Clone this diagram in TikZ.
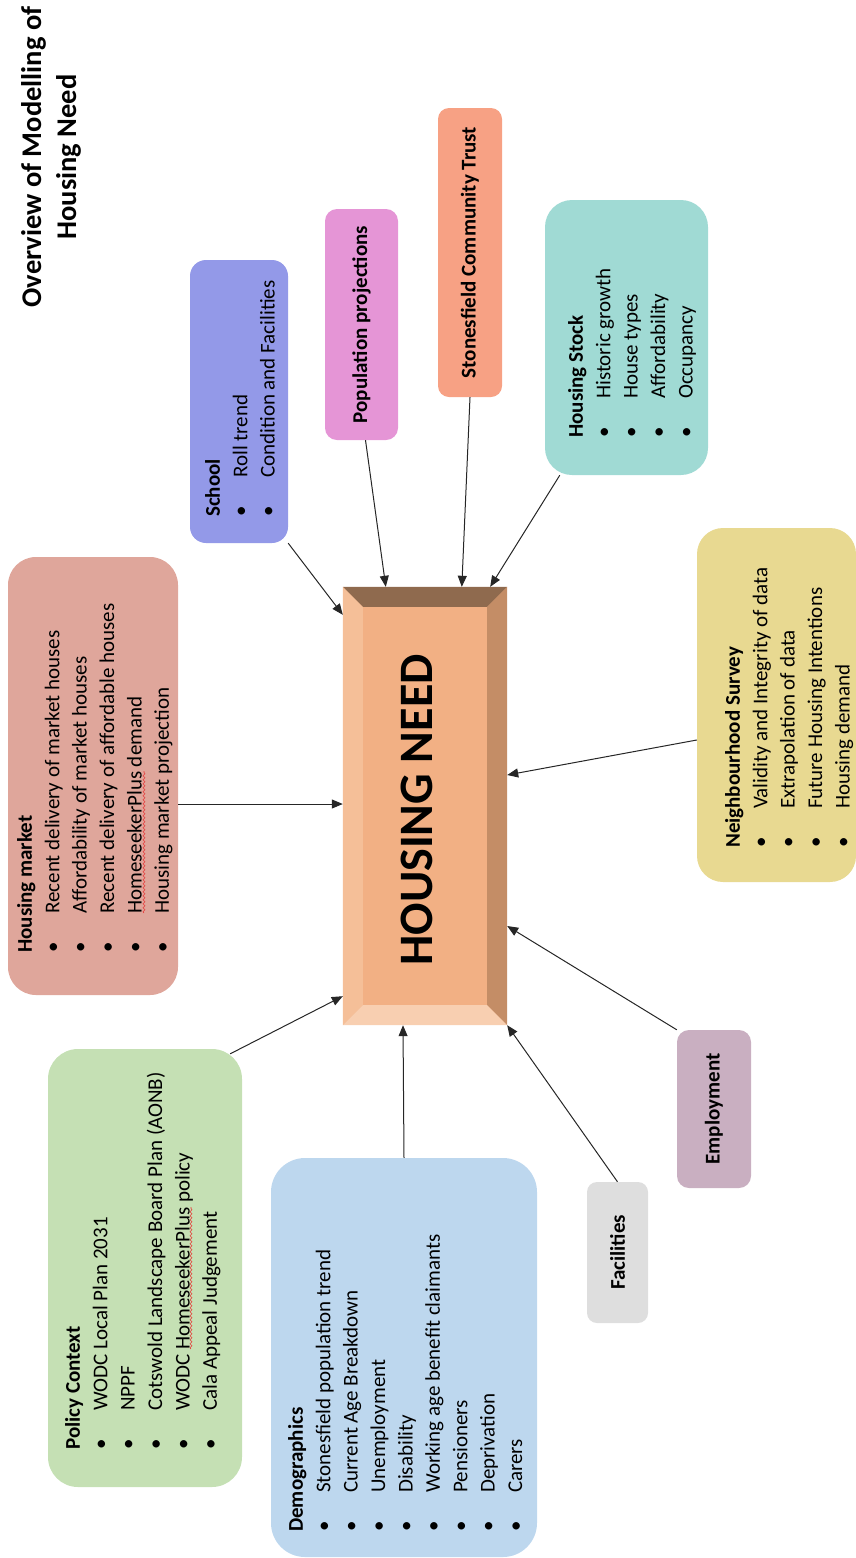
\documentclass[tikz,border=0pt]{standalone}
\usepackage{fontspec}
\setmainfont{Carlito}
\usetikzlibrary{arrows.meta,positioning,decorations.pathmorphing}

\definecolor{schoolBlue}{RGB}{147,153,232}
\definecolor{popPink}{RGB}{229,149,214}
\definecolor{trustSalmon}{RGB}{247,161,132}
\definecolor{stockTeal}{RGB}{160,218,212}
\definecolor{marketRose}{RGB}{223,166,155}
\definecolor{surveyYellow}{RGB}{232,217,145}
\definecolor{policyGreen}{RGB}{197,224,180}
\definecolor{demogBlue}{RGB}{189,215,238}
\definecolor{facGrey}{RGB}{222,222,222}
\definecolor{employMauve}{RGB}{201,175,193}
\definecolor{needFace}{RGB}{242,176,132}
\definecolor{needTop}{RGB}{143,106,78}
\definecolor{needRight}{RGB}{196,141,102}
\definecolor{needLeft}{RGB}{245,191,152}
\definecolor{needBottom}{RGB}{248,207,177}
\definecolor{spellRed}{RGB}{230,60,60}

\newcommand{\itm}{\makebox[39pt][l]{\textbullet}}

\begin{document}
\begin{tikzpicture}[x=1pt, y=-1pt,
    box/.style={rounded corners=#1, inner sep=0pt},
    box/.default=12pt,
    boxtext/.style={rotate=90, anchor=north west, inner sep=0pt, align=left,
      font=\fontsize{21}{27.4}\selectfont},
    boxlabel/.style={rotate=90, inner sep=0pt, font=\bfseries\fontsize{21}{25}\selectfont},
    feed/.style={draw=black!85, line width=1pt, -{Triangle[length=11pt,width=9pt]}},
    spell/.style={draw=spellRed, line width=0.6pt, decorate,
      decoration={snake, amplitude=1pt, segment length=4pt}}]
  \useasboundingbox (0,0) rectangle (856,1558);

  % title
  \node[rotate=90, align=center, font=\bfseries\fontsize{28.5}{35}\selectfont] (title) at (51,157)
    {Overview of Modelling of\\Housing Need};

  % centre
  \node[fill=needFace, minimum width=164pt, minimum height=438pt, inner sep=0pt] (need) at (425,806) {};
  \fill[needTop] (need.north west) -- (need.north east) -- ([xshift=-20pt,yshift=-20pt]need.north east)
    -- ([xshift=20pt,yshift=-20pt]need.north west) -- cycle;
  \fill[needRight] (need.north east) -- (need.south east) -- ([xshift=-20pt,yshift=20pt]need.south east)
    -- ([xshift=-20pt,yshift=-20pt]need.north east) -- cycle;
  \fill[needLeft] (need.north west) -- (need.south west) -- ([xshift=20pt,yshift=20pt]need.south west)
    -- ([xshift=20pt,yshift=-20pt]need.north west) -- cycle;
  \fill[needBottom] (need.south west) -- (need.south east) -- ([xshift=-20pt,yshift=20pt]need.south east)
    -- ([xshift=20pt,yshift=20pt]need.south west) -- cycle;
  \node[rotate=90, inner sep=0pt, font=\bfseries\fontsize{48}{48}\selectfont] (needText) at (417,810) {HOUSING NEED};

  % boxes
  \node[box=16pt, fill=schoolBlue, minimum width=98pt, minimum height=283pt] (school) at (239,401.5) {};
  \node[boxtext] (schoolText) at (205,517) {\textbf{School}\\
    \itm Roll trend\\
    \itm Condition and Facilities};

  \node[box, fill=popPink, minimum width=73pt, minimum height=231pt] (pop) at (361.5,324.5) {};
  \node[boxlabel] (popText) at (pop) {Population projections};

  \node[box=11pt, fill=trustSalmon, minimum width=64pt, minimum height=289pt] (sct) at (470,252.5) {};
  \node[boxlabel] (sctText) at (sct) {Stonesfield Community Trust};

  \node[box=27pt, fill=stockTeal, minimum width=163pt, minimum height=275pt] (stock) at (626.5,337.5) {};
  \node[boxtext] (stockText) at (568,438) {\textbf{Housing Stock}\\
    \itm Historic growth\\
    \itm House types\\
    \itm Affordability\\
    \itm Occupancy};

  \node[box=28pt, fill=marketRose, minimum width=170pt, minimum height=438pt] (market) at (93,776) {};
  \node[boxtext] (marketText) at (17,953) {\textbf{Housing market}\\
    \itm Recent delivery of market houses\\
    \itm Affordability of market houses\\
    \itm Recent delivery of affordable houses\\
    \itm HomeseekerPlus demand\\
    \itm Housing market projection};
  \draw[spell] (144,913) -- (144,771);

  \node[box=26pt, fill=surveyYellow, minimum width=159pt, minimum height=354pt] (neigh) at (776.5,705) {};
  \node[boxtext] (neighText) at (725,848) {\textbf{Neighbourhood Survey}\\
    \itm Validity and Integrity of data\\
    \itm Extrapolation of data\\
    \itm Future Housing Intentions\\
    \itm Housing demand};

  \node[box=30pt, fill=policyGreen, minimum width=194pt, minimum height=438pt] (policy) at (145,1268) {};
  \node[boxtext] (policyText) at (65,1450) {\textbf{Policy Context}\\
    \itm WODC Local Plan 2031\\
    \itm NPPF\\
    \itm Cotswold Landscape Board Plan (AONB)\\
    \itm WODC HomeseekerPlus policy\\
    \itm Cala Appeal Judgement};
  \draw[spell] (191,1349) -- (191,1207);

  \node[box=34pt, fill=demogBlue, minimum width=266pt, minimum height=399pt] (demog) at (404,1357.5) {};
  \node[boxtext] (demogText) at (288,1532) {\textbf{Demographics}\\
    \itm Stonesfield population trend\\
    \itm Current Age Breakdown\\
    \itm Unemployment\\
    \itm Disability\\
    \itm Working age benefit claimants\\
    \itm Pensioners\\
    \itm Deprivation\\
    \itm Carers};

  \node[box=10pt, fill=facGrey, minimum width=61pt, minimum height=141pt] (fac) at (617.5,1252.5) {};
  \node[boxlabel] (facText) at (fac) {Facilities};

  \node[box, fill=employMauve, minimum width=74pt, minimum height=158pt] (employ) at (714,1109) {};
  \node[boxlabel] (employText) at (employ) {Employment};

  % connectors
  \draw[feed] (school.south east) -- ([yshift=-28pt]need.north west);
  \draw[feed] ([xshift=4pt]pop.south) -- ([xshift=43pt]need.north west);
  \draw[feed] (sct.south) -- ([xshift=119pt]need.north west);
  \draw[feed] ([xshift=15pt]stock.south west) -- ([xshift=-17pt]need.north east);
  \draw[feed] ([yshift=-28pt]market.east) -- ([yshift=2pt]need.west);
  \draw[feed] ([yshift=-35pt]neigh.west) -- ([yshift=31pt]need.east);
  \draw[feed] (employ.north west) -- ([yshift=-120pt]need.east);
  \draw[feed] (fac.north) -- (need.south east);
  \draw[feed] (demog.north) -- ([xshift=-22pt]need.south);
  \draw[feed] ([xshift=-12pt,yshift=-5pt]policy.north east) -- ([yshift=29pt]need.south west);
\end{tikzpicture}
\end{document}
